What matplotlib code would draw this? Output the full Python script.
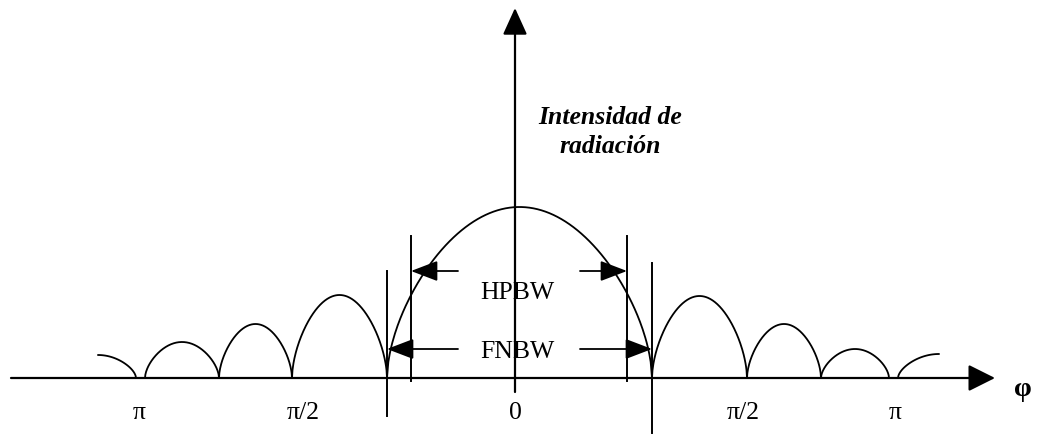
import numpy as np
import matplotlib.pyplot as plt

# radiation pattern sketch (units: px from origin, y = height above phi axis)
# full lobes: (first zero, second zero, peak height)
lobes = [
    (-370, -296, 36),
    (-296, -223, 54),
    (-223, -128, 83),
    (-128, 137, 171),   # main lobe
    (137, 232, 82),
    (232, 306, 54),
    (306, 374, 29),
]
# half lobes at the ends: (peak x, zero x, peak height)
half_lobes = [(-417, -379, 23), (424, 383, 24)]

# HPBW / FNBW markers
hpbw = [-104, 112]
fnbw = [-128, 137]

tick_pos = [-376, -212, 0, 228, 380]
tick_labels = ["π", "π/2", "0", "π/2", "π"]

plt.rcParams["font.family"] = ["Liberation Serif", "DejaVu Serif"]
fs = 18.5

fig = plt.figure(figsize=(10.41, 4.34), dpi=100)
ax = fig.add_axes([0, 0, 1, 1])
ax.set_xlim(-515, 526)
ax.set_ylim(-56, 378)
ax.axis("off")


def arch(x0, x1, h, p=0.57, n=200):
    t = np.linspace(0, 1, n)
    return x0 + (x1 - x0) * t, h * np.sin(np.pi * t) ** p


for x0, x1, h in lobes:
    xs, ys = arch(x0, x1, h)
    ax.plot(xs, ys, color="black", lw=1.3)

for xp, xz, h in half_lobes:
    xs, ys = arch(2 * xp - xz, xz, h)
    keep = (xs - xp) * (xz - xp) >= 0
    ax.plot(xs[keep], ys[keep], color="black", lw=1.3)

# axes with arrows
ax.annotate("", xy=(480, 0), xytext=(-504, 0),
            arrowprops=dict(arrowstyle="-|>,head_length=1.1,head_width=0.55",
                            color="black", lw=1.6, shrinkA=0, shrinkB=0,
                            mutation_scale=15))
ax.annotate("", xy=(0, 370), xytext=(0, -14),
            arrowprops=dict(arrowstyle="-|>,head_length=1.1,head_width=0.5",
                            color="black", lw=1.6, shrinkA=0, shrinkB=0,
                            mutation_scale=15))

# vertical marker lines
ax.plot([hpbw[0], hpbw[0]], [-3, 142], color="black", lw=1.4)
ax.plot([hpbw[1], hpbw[1]], [-3, 142], color="black", lw=1.4)
ax.plot([fnbw[0], fnbw[0]], [-38, 107], color="black", lw=1.4)
ax.plot([fnbw[1], fnbw[1]], [-55, 115], color="black", lw=1.4)

# width arrows
aprops = dict(arrowstyle="-|>,head_length=1.1,head_width=0.42",
              color="black", lw=1.3, shrinkA=0, shrinkB=0, mutation_scale=15)
ax.annotate("", xy=(hpbw[0], 107), xytext=(-57, 107), arrowprops=aprops)
ax.annotate("", xy=(hpbw[1], 107), xytext=(65, 107), arrowprops=aprops)
ax.annotate("", xy=(fnbw[0], 29), xytext=(-57, 29), arrowprops=aprops)
ax.annotate("", xy=(fnbw[1], 29), xytext=(65, 29), arrowprops=aprops)

ax.text(2, 85, "HPBW", fontsize=fs, ha="center", va="center")
ax.text(2, 26, "FNBW", fontsize=fs, ha="center", va="center")

for x, lab in zip(tick_pos, tick_labels):
    ax.text(x, -35, lab, fontsize=fs, ha="center", va="center")

ax.text(508, -12, "φ", fontsize=fs + 2, fontweight="bold", ha="center", va="center")
ax.text(95, 246, "Intensidad de\nradiación", fontsize=fs, fontweight="bold",
        style="italic", ha="center", va="center", linespacing=1.35)

fig.savefig("out.png", dpi=100)
